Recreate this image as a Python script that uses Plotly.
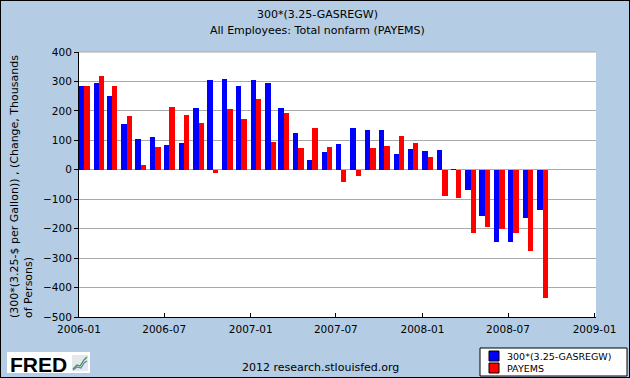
import plotly.graph_objects as go
import pandas as pd

months = pd.date_range("2006-01-01", "2008-09-01", freq="MS")
gas_series = [284, 295, 250, 155, 103, 110, 83, 90, 209, 305, 308, 284,
              305, 295, 209, 124, 32, 59, 86, 142, 135, 135, 52, 70,
              64, 67, 2, -67, -158, -246, -246, -163, -138]
payems_series = [284, 319, 284, 182, 15, 76, 212, 185, 158, -11, 206, 172,
                 240, 94, 193, 74, 142, 77, -42, -22, 74, 81, 115, 91,
                 42, -88, -97, -214, -193, -202, -214, -277, -436]
y_ticks = [400, 300, 200, 100, 0, -100, -200, -300, -400, -500]
x_ticks = ["2006-01-01", "2006-07-01", "2007-01-01", "2007-07-01",
           "2008-01-01", "2008-07-01", "2009-01-01"]
x_tick_labels = ["2006-01", "2006-07", "2007-01", "2007-07", "2008-01", "2008-07", "2009-01"]

W, H = 630, 378
L, R, T, B = 79, 596, 52, 317
PW, PH = R - L, B - T


def px(x):
    return (x - L) / PW


def py(y):
    return (B - y) / PH


DAY = 86400000
bar_w = 11.3 * DAY
FONT = "DejaVu Sans"
BG = "#B4CDE4"

fig = go.Figure()
fig.add_trace(go.Bar(x=months, y=gas_series, name="300*(3.25-GASREGW)",
                     marker=dict(color="#0000FF", line=dict(width=0)),
                     width=bar_w, offset=0))
fig.add_trace(go.Bar(x=months, y=payems_series, name="PAYEMS",
                     marker=dict(color="#FF0000", line=dict(width=0)),
                     width=bar_w, offset=bar_w))

shapes = []
# top border of plot
shapes.append(dict(type="line", xref="paper", yref="paper", x0=0, x1=1, y0=1, y1=1,
                   line=dict(color="#AAAAAA", width=1)))
# outer border
shapes.append(dict(type="rect", xref="paper", yref="paper",
                   x0=px(0), x1=px(W), y0=py(H), y1=py(0),
                   line=dict(color="#000000", width=2)))
# legend box
shapes.append(dict(type="rect", xref="paper", yref="paper",
                   x0=px(480), x1=px(627), y0=py(376), y1=py(348),
                   fillcolor="white", line=dict(color="black", width=1)))
shapes.append(dict(type="rect", xref="paper", yref="paper",
                   x0=px(489), x1=px(499), y0=py(361), y1=py(351),
                   fillcolor="#0000FF", line=dict(color="black", width=1)))
shapes.append(dict(type="rect", xref="paper", yref="paper",
                   x0=px(489), x1=px(499), y0=py(373), y1=py(363),
                   fillcolor="#FF0000", line=dict(color="black", width=1)))
# FRED logo background
shapes.append(dict(type="rect", xref="paper", yref="paper",
                   x0=px(7), x1=px(90), y0=py(373), y1=py(352),
                   fillcolor="white", line=dict(width=0)))
shapes.append(dict(type="rect", xref="paper", yref="paper",
                   x0=px(72), x1=px(88), y0=py(371), y1=py(355),
                   fillcolor="#E4E8EC", line=dict(width=0)))


def path(points):
    s = ""
    for i, (a, b) in enumerate(points):
        s += ("M" if i == 0 else "L") + f"{px(a):.5f},{py(b):.5f} "
    return s


shapes.append(dict(type="path", xref="paper", yref="paper",
                   path=path([(73, 369), (77, 365), (80, 366), (84, 360), (87, 357)]),
                   line=dict(color="#3A9A3A", width=1.2)))
shapes.append(dict(type="path", xref="paper", yref="paper",
                   path=path([(73, 370), (77, 367), (81, 368), (84, 363), (87, 361)]),
                   line=dict(color="#5B7FC0", width=1.2)))

annotations = [
    dict(text="300*(3.25-GASREGW)", xref="paper", yref="paper", x=px(317), y=py(14),
         showarrow=False, xanchor="center", yanchor="middle",
         font=dict(family=FONT, size=11, color="black")),
    dict(text="All Employees: Total nonfarm (PAYEMS)", xref="paper", yref="paper",
         x=px(317), y=py(30), showarrow=False, xanchor="center", yanchor="middle",
         font=dict(family=FONT, size=11, color="black")),
    dict(text="(300*(3.25-$ per Gallon)) , (Change, Thousands<br>of Persons)",
         xref="paper", yref="paper", x=px(21.5), y=py(320), textangle=-90,
         showarrow=False, xanchor="center", yanchor="bottom", align="left",
         font=dict(family=FONT, size=11, color="black")),
    dict(text="2012 research.stlouisfed.org", xref="paper", yref="paper",
         x=px(320), y=py(367), showarrow=False, xanchor="center", yanchor="middle",
         font=dict(family=FONT, size=11, color="black")),
    dict(text="300*(3.25-GASREGW)", xref="paper", yref="paper", x=px(505), y=py(356),
         showarrow=False, xanchor="left", yanchor="middle",
         font=dict(family=FONT, size=9.5, color="black")),
    dict(text="PAYEMS", xref="paper", yref="paper", x=px(505), y=py(368),
         showarrow=False, xanchor="left", yanchor="middle",
         font=dict(family=FONT, size=9.5, color="black")),
    dict(text="<b>FRED</b>", xref="paper", yref="paper", x=px(8), y=py(364),
         showarrow=False, xanchor="left", yanchor="middle",
         font=dict(family="Liberation Sans", size=21, color="black")),
]

fig.update_layout(
    width=W, height=H,
    margin=dict(l=L, r=W - R, t=T, b=H - B, pad=0),
    paper_bgcolor=BG, plot_bgcolor="white",
    showlegend=False,
    barmode="overlay",
    bargap=0,
    font=dict(family=FONT, size=10.5, color="black"),
    shapes=shapes,
    annotations=annotations,
    xaxis=dict(type="date", range=["2006-01-01", "2009-01-04"],
               tickvals=x_ticks, ticktext=x_tick_labels,
               ticks="inside", ticklen=4, tickcolor="black",
               ticklabelstandoff=2,
               showline=True, linecolor="black", linewidth=1,
               showgrid=False, zeroline=False,
               tickfont=dict(family=FONT, size=10.5, color="black")),
    yaxis=dict(range=[-500, 400], tickvals=y_ticks,
               ticks="outside", ticklen=4, tickcolor="black",
               showline=True, linecolor="black", linewidth=1,
               showgrid=True, gridcolor="#AAAAAA", gridwidth=1,
               zeroline=False,
               tickfont=dict(family=FONT, size=10.5, color="black")),
)

fig.write_html("out.html",
               config={"displayModeBar": False},
               post_script="document.body.style.margin='0';document.body.style.padding='0';"
                           "document.body.style.overflow='hidden';")
